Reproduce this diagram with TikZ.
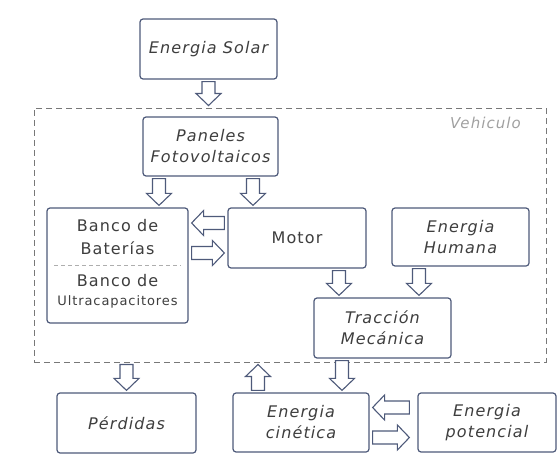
\documentclass[tikz,border=0pt]{standalone}
\usepackage{fontspec}
\setmainfont{DejaVu Sans}[LetterSpace=7]
\usepackage{xcolor}
\usepackage{tikz}
\usetikzlibrary{calc}

\definecolor{boxedge}{RGB}{78,90,122}
\definecolor{textgray}{RGB}{62,62,62}
\definecolor{framegray}{RGB}{120,120,120}

% hollow block arrows: vertical and horizontal
\newcommand{\flechaV}[2]{%
  \draw[flecha] let \p1=(#1), \p2=(#2), \n1={ifthenelse(\y2>\y1,1,-1)} in
    ({\x1-6.5pt},{\y1+(\n1)*2pt}) -- ({\x1-6.5pt},{\y2-(\n1)*14pt})
    -- ({\x1-12.5pt},{\y2-(\n1)*14pt}) -- (\x1,{\y2-(\n1)*2pt})
    -- ({\x1+12.5pt},{\y2-(\n1)*14pt}) -- ({\x1+6.5pt},{\y2-(\n1)*14pt})
    -- ({\x1+6.5pt},{\y1+(\n1)*2pt}) -- cycle;}
\newcommand{\flechaH}[2]{%
  \draw[flecha] let \p1=(#1), \p2=(#2), \n1={ifthenelse(\x2>\x1,1,-1)} in
    ({\x1+(\n1)*3pt},{\y1-6.5pt}) -- ({\x2-(\n1)*15pt},{\y1-6.5pt})
    -- ({\x2-(\n1)*15pt},{\y1-12.5pt}) -- ({\x2-(\n1)*3pt},\y1)
    -- ({\x2-(\n1)*15pt},{\y1+12.5pt}) -- ({\x2-(\n1)*15pt},{\y1+6.5pt})
    -- ({\x1+(\n1)*3pt},{\y1+6.5pt}) -- cycle;}

\begin{document}
\begin{tikzpicture}[
    x=1pt, y=-1pt,
    % --- Styles ---
    caja/.style={draw=boxedge, line width=1.2pt, rounded corners=3pt, fill=white,
        minimum width=137pt, minimum height=60pt, align=center, text=textgray,
        inner sep=1pt, font=\fontsize{16}{21}\selectfont\itshape},
    caja recta/.style={caja, font=\fontsize{16}{21}\selectfont},
    texto/.style={align=center, text=textgray, inner sep=0pt},
    flecha/.style={draw=boxedge, fill=white, line width=1.1pt, line join=miter},
    marco/.style={draw=framegray, line width=1pt, dash pattern=on 6pt off 4pt,
        minimum width=512pt, minimum height=254pt, inner sep=0pt},
    separador/.style={draw=framegray!60, line width=0.8pt, dash pattern=on 4pt off 3pt}
]
    \useasboundingbox (0,0) rectangle (558,458);

    %% --- Vehicle frame ---
    \node[texto, anchor=east, text=framegray!70, font=\fontsize{15}{17}\selectfont\itshape]
        (rotulo) at (521,123) {Vehiculo};
    \node[marco] (vehiculo) at (290,235) {};

    %% --- Boxes ---
    \node[caja] (solar) at (208.5,49) {Energia Solar};
    \node[caja, minimum width=135pt, minimum height=59pt] (paneles) at (210.5,146.5) {Paneles\\Fotovoltaicos};

    % battery / ultracapacitor bank
    \node[caja, minimum width=141pt, minimum height=115pt] (banco) at (117.5,265.5) {};
    \node[texto, font=\fontsize{16}{23}\selectfont] (baterias) at (117.5,237) {Banco de\\Baterías};
    \node[texto, font=\fontsize{16}{19}\selectfont] (ultracap) at (117.5,291) {Banco de\\{\fontsize{13}{14}\selectfont Ultracapacitores}};
    \draw[separador] ([xshift=8pt]banco.west) -- ([xshift=-8pt]banco.east);

    \node[caja recta, minimum width=138pt] (motor) at (297,238) {Motor};
    \node[caja, minimum height=58pt] (humana) at (460.5,237) {Energia\\Humana};
    \node[caja] (traccion) at (382.5,328) {Tracción\\Mecánica};

    \node[caja, minimum width=139pt] (perdidas) at (126.5,423) {Pérdidas};
    \node[caja, minimum width=136pt, minimum height=59pt] (cinetica) at (301,422.5) {Energia\\cinética};
    \node[caja, minimum width=138pt, minimum height=59pt] (potencial) at (487,422.5) {Energia\\potencial};

    %% --- Block arrows ---
    \flechaV{solar.south}{solar.south |- vehiculo.north}
    \flechaV{[xshift=-51.5pt]paneles.south}{[xshift=-51.5pt]paneles.south |- banco.north}
    \flechaV{[xshift=42.5pt]paneles.south}{[xshift=42.5pt]paneles.south |- motor.north}

    \flechaH{[yshift=15pt]motor.west}{[yshift=15pt]motor.west -| banco.east}
    \flechaH{[yshift=-15pt]motor.west -| banco.east}{[yshift=-15pt]motor.west}

    \flechaV{[xshift=42pt]motor.south}{[xshift=42pt]motor.south |- traccion.north}
    \flechaV{[xshift=-41.5pt]humana.south}{[xshift=-41.5pt]humana.south |- traccion.north}

    \flechaV{perdidas.north |- vehiculo.south}{perdidas.north}
    \flechaV{[xshift=-43pt]cinetica.north}{[xshift=-43pt]cinetica.north |- vehiculo.south}
    \flechaV{[xshift=-40.5pt]traccion.south}{[xshift=-40.5pt]traccion.south |- cinetica.north}

    % gap to the potential box is wider than to the kinetic one
    \flechaH{[xshift=-5pt, yshift=15pt]potencial.west}{[yshift=15pt]potencial.west -| cinetica.east}
    \flechaH{[yshift=-15pt]potencial.west -| cinetica.east}{[xshift=-5pt, yshift=-15pt]potencial.west}
\end{tikzpicture}
\end{document}
